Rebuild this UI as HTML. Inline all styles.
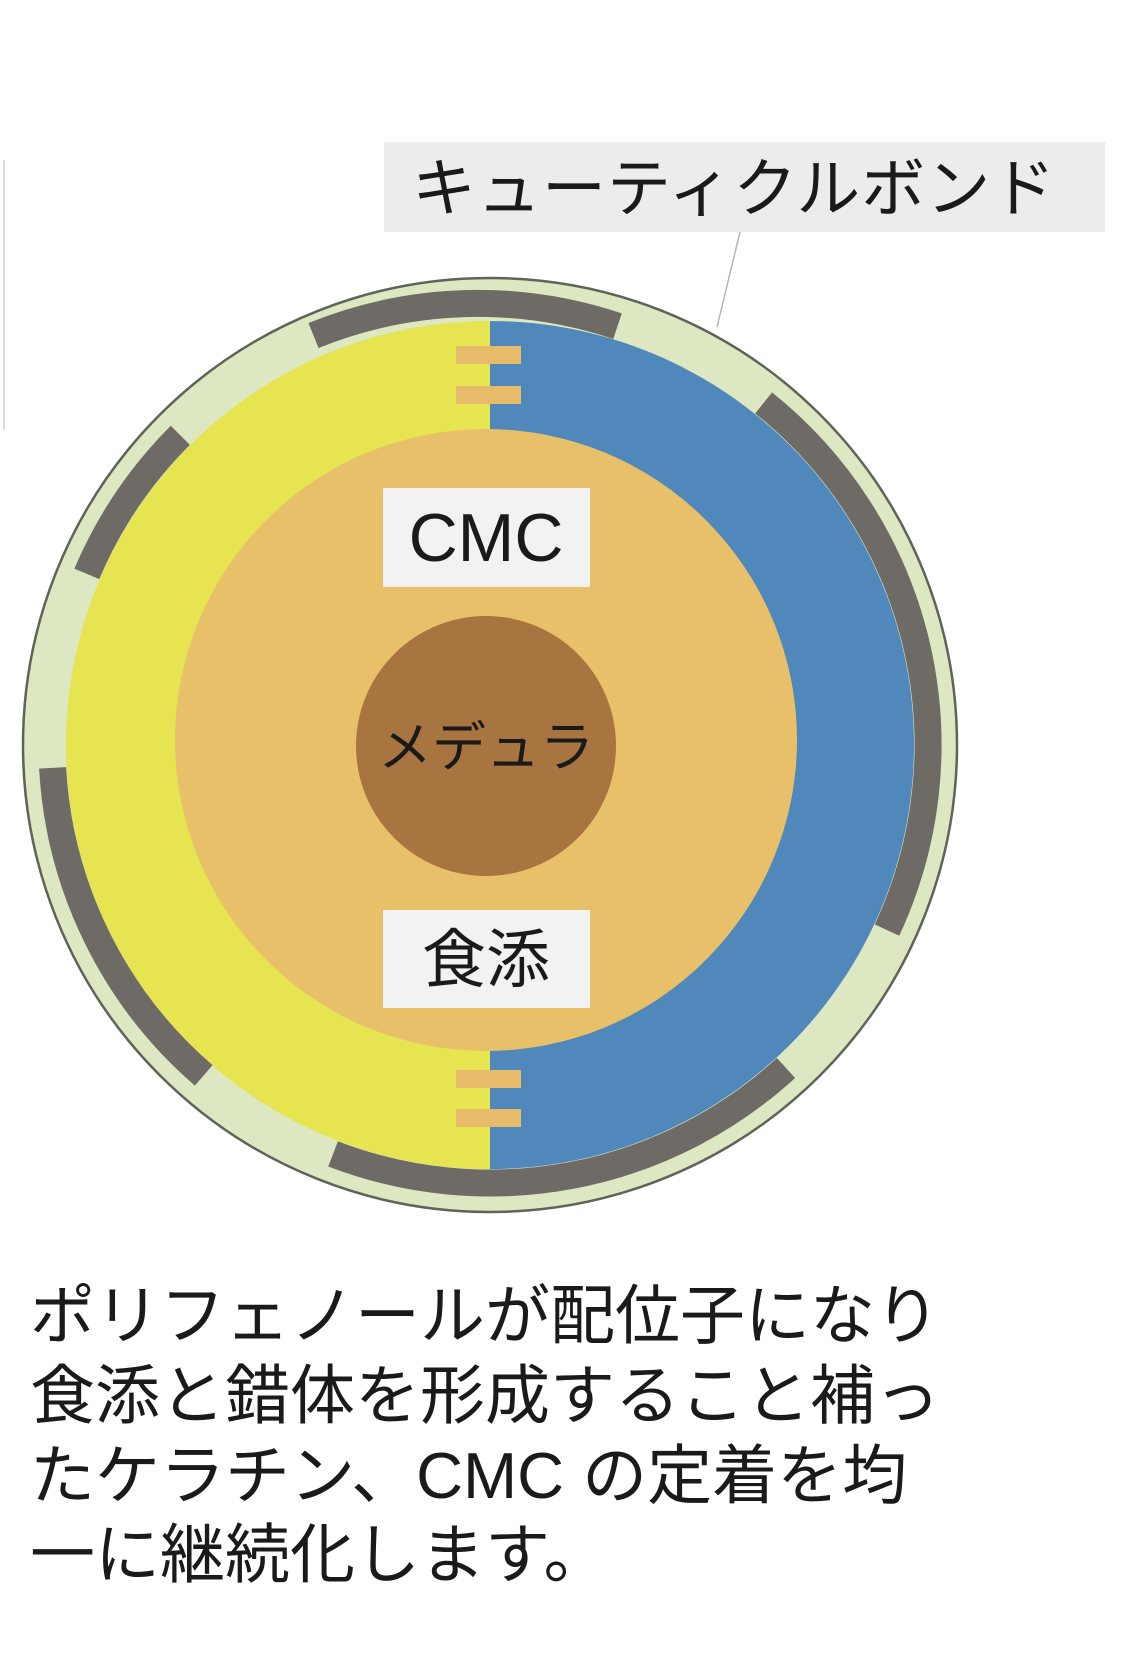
<!DOCTYPE html>
<html><head><meta charset="utf-8"><style>
html,body{margin:0;padding:0;background:#fff;}
svg{display:block;}
text{font-family:"Liberation Sans","Noto Sans CJK JP",sans-serif;fill:#1a1a1a;}
</style></head><body>
<svg width="1125" height="1664" viewBox="0 0 1125 1664" xmlns="http://www.w3.org/2000/svg">
<rect width="1125" height="1664" fill="#fff"/>
<line x1="4" y1="160" x2="4" y2="430" stroke="#dcdcdc" stroke-width="2"/>
<rect x="384" y="142" width="721" height="90" fill="#ececec"/>
<text x="412" y="211" font-size="64" letter-spacing="1">キューティクルボンド</text>
<line x1="740" y1="232" x2="717" y2="327" stroke="#b5b5b5" stroke-width="1.5"/>
<circle cx="490" cy="745" r="467" fill="#dde7c1" stroke="#5f6358" stroke-width="2.5"/>
<path d="M490 321 A424 424 0 0 0 490 1169 Z" fill="#e6e450"/>
<path d="M490 321 A424 424 0 0 1 490 1169 Z" fill="#5088bb"/>
<g fill="#e8bb6a">
<rect x="456" y="346" width="65" height="18"/>
<rect x="456" y="386" width="65" height="18"/>
<rect x="456" y="1070" width="65" height="18"/>
<rect x="456" y="1109" width="65" height="18"/>
</g>
<circle cx="486" cy="740" r="311" fill="#e9c06a"/>
<circle cx="486" cy="746" r="130" fill="#a8743f"/>
<rect x="383" y="488" width="207" height="99" fill="#f2f2f2"/>
<text x="486" y="561" font-size="68" text-anchor="middle">CMC</text>
<text x="486" y="766" font-size="54" text-anchor="middle">メデュラ</text>
<rect x="383" y="910" width="207" height="98" fill="#f2f2f2"/>
<text x="486" y="982" font-size="64" text-anchor="middle">食添</text>
<text x="30" y="1338" font-size="65">ポリフェノールが配位子になり</text>
<text x="30" y="1418" font-size="65">食添と錯体を形成すること補っ</text>
<text x="30" y="1498" font-size="65">たケラチン、CMC の定着を均</text>
<text x="30" y="1577" font-size="65">一に継続化します。</text>
<g fill="none" stroke="#6e6a66" stroke-width="27">
<path d="M313.5 335.5 A438 438 0 0 1 617.5 326.2"/>
<path d="M763.6 402.9 A438 438 0 0 1 887 930.1"/>
<path d="M786 1068 A438 438 0 0 1 333.1 1153.9"/>
<path d="M203.7 1075.4 A438 438 0 0 1 52.6 767.9"/>
<path d="M86.8 573.9 A438 438 0 0 1 180.3 435.3"/>
</g>
</svg>
</body></html>
